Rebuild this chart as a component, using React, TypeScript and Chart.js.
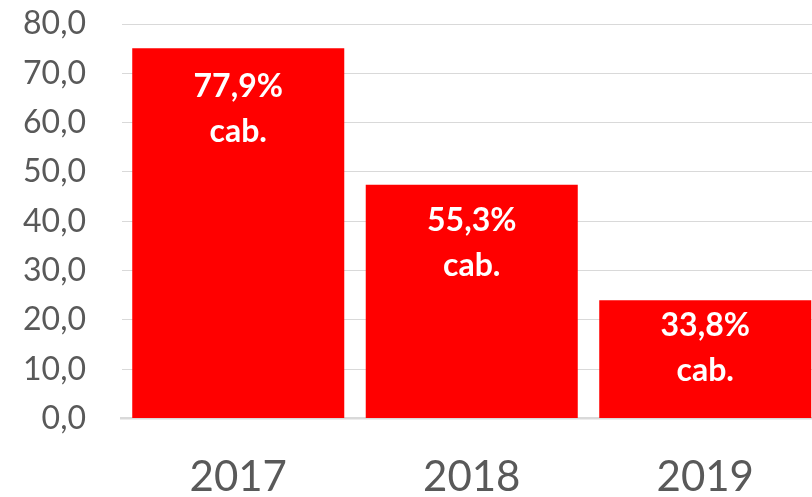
import React, { useEffect, useRef } from "react";
import { Chart, registerables } from "chart.js";

Chart.register(...registerables);

const categories = ["2017", "2018", "2019"];
const values = [75.1, 47.4, 24.0];
const barPercents = ["77,9%", "55,3%", "33,8%"];
const barSubLabel = "cab.";
const yTicks = { min: 0, max: 80, step: 10 };

const FONT = "Lato, 'Open Sans', sans-serif";

const barLabelPlugin = {
  id: "barLabels",
  afterDatasetsDraw(chart: any) {
    const ctx = chart.ctx;
    const meta = chart.getDatasetMeta(0);
    const firstOffsets = [48.4, 46, 36];
    ctx.save();
    ctx.fillStyle = "#ffffff";
    ctx.font = `bold 32px ${FONT}`;
    ctx.textAlign = "center";
    ctx.textBaseline = "alphabetic";
    meta.data.forEach((bar: any, i: number) => {
      const y1 = bar.y + firstOffsets[i];
      ctx.fillText(barPercents[i], bar.x, y1);
      ctx.fillText(barSubLabel, bar.x, y1 + 45.3);
    });
    ctx.restore();
  },
};

export default function App() {
  const ref = useRef<HTMLCanvasElement | null>(null);
  useEffect(() => {
    document.body.style.margin = "0";
    document.body.style.overflow = "hidden";
    const canvas = ref.current!;
    const chart = new Chart(canvas, {
      type: "bar",
      data: {
        labels: categories,
        datasets: [
          {
            data: values,
            backgroundColor: "#ff0000",
            borderWidth: 0,
            barPercentage: 0.908,
            categoryPercentage: 1,
          },
        ],
      },
      options: {
        responsive: false,
        animation: false,
        devicePixelRatio: 1,
        layout: { padding: { top: 24, right: 8, left: 0, bottom: 0 } },
        plugins: { legend: { display: false }, tooltip: { enabled: false } },
        scales: {
          x: {
            grid: { drawOnChartArea: false, drawTicks: false },
            border: { display: true, color: "#d9d9d9", width: 2.5 },
            ticks: {
              color: "#595959",
              font: { family: FONT, size: 42 },
              padding: 34,
              maxRotation: 0,
            },
            afterFit(scale: any) {
              scale.height = 78.5;
              scale.paddingLeft = 0;
              scale.paddingRight = 0;
            },
          },
          y: {
            min: yTicks.min,
            max: yTicks.max,
            grid: { color: "#d9d9d9", lineWidth: 1, drawTicks: false },
            border: { display: false },
            ticks: {
              stepSize: yTicks.step,
              color: "#595959",
              font: { family: FONT, size: 32 },
              padding: 35.5,
              callback: (v: any) => Number(v).toFixed(1).replace(".", ","),
            },
            afterFit(scale: any) {
              scale.width = 121.5;
              scale.paddingTop = 0;
              scale.paddingBottom = 0;
            },
          },
        },
      },
      plugins: [barLabelPlugin],
    });
    return () => chart.destroy();
  }, []);
  return (
    <div style={{ width: 812, height: 497, overflow: "hidden", position: "relative" }}>
      <canvas ref={ref} width={830} height={497} style={{ position: "absolute", left: 0, top: 0 }} />
    </div>
  );
}
